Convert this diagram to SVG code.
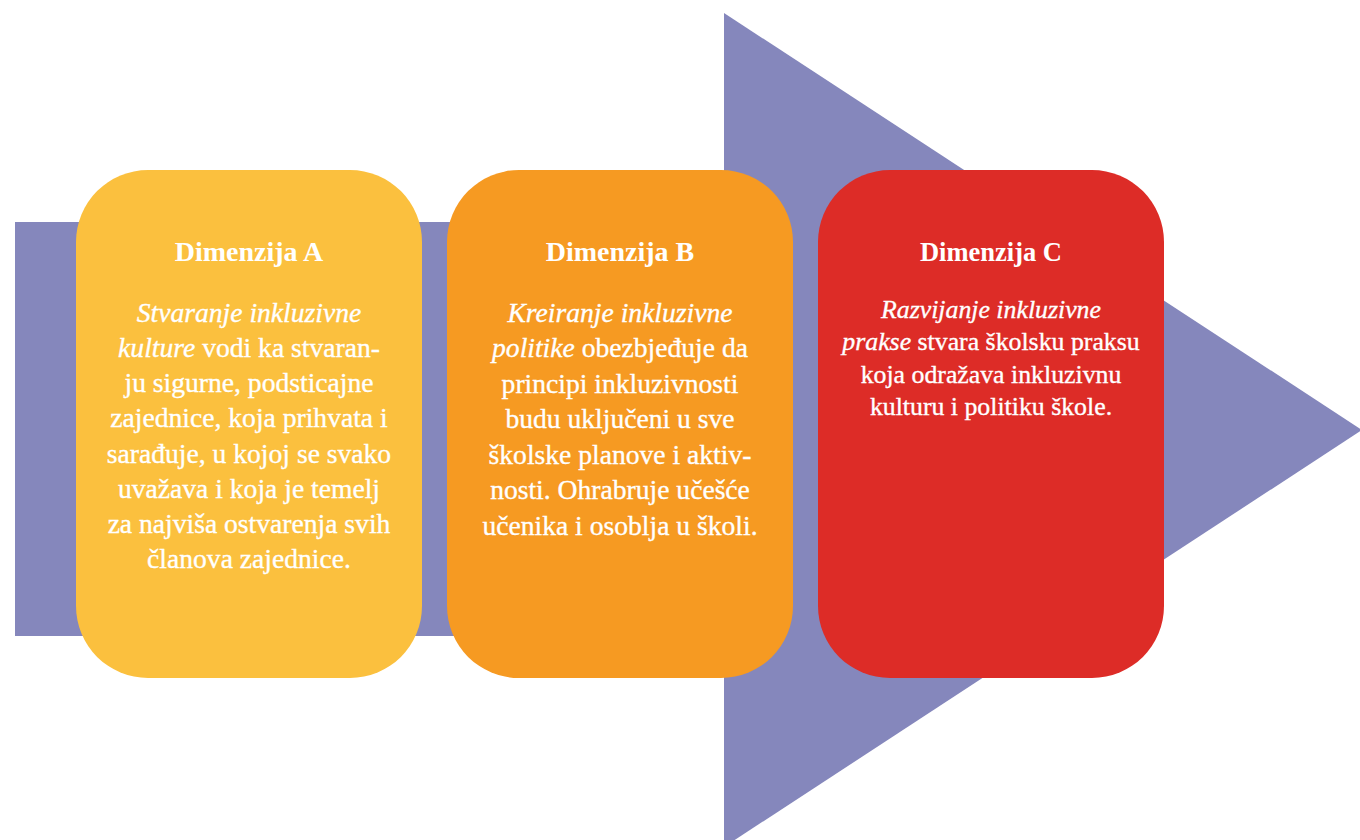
<svg xmlns="http://www.w3.org/2000/svg" width="1360" height="840" viewBox="0 0 1360 840">
<style>
.box{stroke:none}
.t{font-family:"Liberation Serif","Times New Roman",serif;fill:#fff;text-anchor:middle}
.h{font-weight:bold;font-size:28px}
.b{font-size:27.6px;stroke:#fff;stroke-width:0.35}
.c{font-size:25.8px;stroke:#fff;stroke-width:0.35}
.hc{font-weight:bold;font-size:26.5px}
.i{font-style:italic}
</style>
<rect width="1360" height="840" fill="#fff"/>
<g id="arrow">
<rect x="15" y="222" width="712" height="414" fill="#8587BC"/>
<polygon points="724,13 1362,430 724,847" fill="#8587BC"/>
</g>
<g id="dimA">
<rect class="box" x="76" y="170" width="346" height="508" rx="72" fill="#FBC03E"/>
<text class="t h" x="249" y="261">Dimenzija A</text>
<text class="t b"><tspan x="249" y="322" class="i">Stvaranje inkluzivne</tspan><tspan x="249" y="357"><tspan class="i">kulture</tspan> vodi ka stvaran-</tspan><tspan x="249" y="392">ju sigurne, podsticajne</tspan><tspan x="249" y="427">zajednice, koja prihvata i</tspan><tspan x="249" y="463">sarađuje, u kojoj se svako</tspan><tspan x="249" y="498">uvažava i koja je temelj</tspan><tspan x="249" y="533">za najviša ostvarenja svih</tspan><tspan x="249" y="568">članova zajednice.</tspan></text>
</g>
<g id="dimB">
<rect class="box" x="447" y="170" width="346" height="508" rx="72" fill="#F69A22"/>
<text class="t h" x="620" y="261">Dimenzija B</text>
<text class="t b"><tspan x="620" y="322" class="i">Kreiranje inkluzivne</tspan><tspan x="620" y="357"><tspan class="i">politike</tspan> obezbjeđuje da</tspan><tspan x="620" y="393">principi inkluzivnosti</tspan><tspan x="620" y="428">budu uključeni u sve</tspan><tspan x="620" y="464">školske planove i aktiv-</tspan><tspan x="620" y="499">nosti. Ohrabruje učešće</tspan><tspan x="620" y="535">učenika i osoblja u školi.</tspan></text>
</g>
<g id="dimC">
<rect class="box" x="818" y="170" width="346" height="508" rx="72" fill="#DD2C27"/>
<text class="t hc" x="991" y="261">Dimenzija C</text>
<text class="t c"><tspan x="991" y="318" class="i">Razvijanje inkluzivne</tspan><tspan x="991" y="350"><tspan class="i">prakse</tspan> stvara školsku praksu</tspan><tspan x="991" y="383">koja odražava inkluzivnu</tspan><tspan x="991" y="415">kulturu i politiku škole.</tspan></text>
</g>
<g id="connectors"/>
</svg>
